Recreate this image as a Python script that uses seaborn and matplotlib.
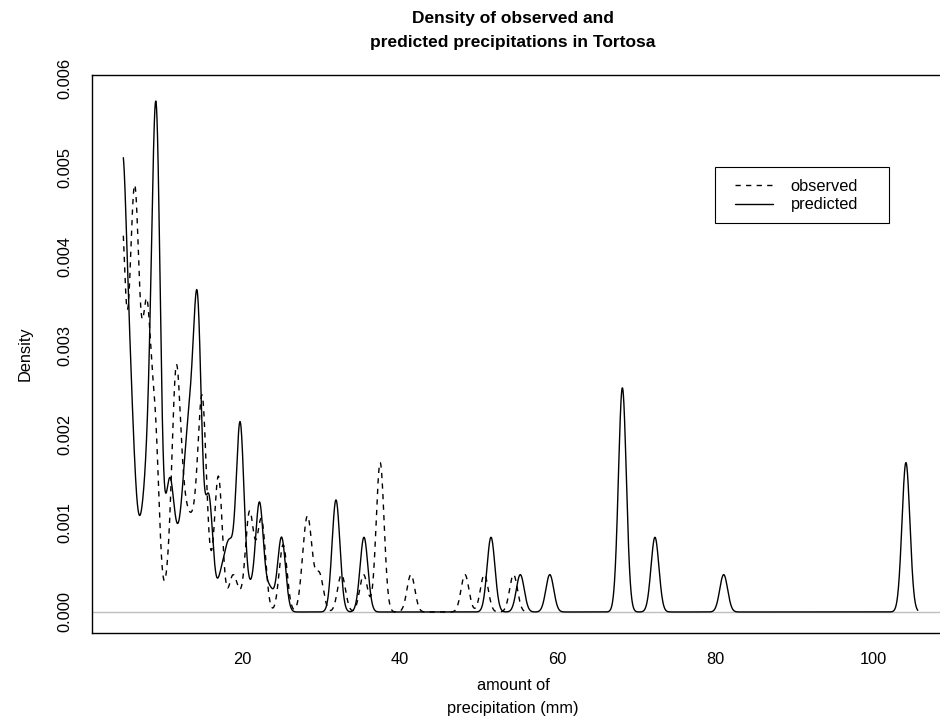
import numpy as np
import matplotlib
matplotlib.use("Agg")
import matplotlib.pyplot as plt
from matplotlib.patches import Rectangle
import seaborn as sns

# daily precipitation (mm) and number of days at each amount
obs_mm = [4.7, 5.8, 6.5, 7.3, 8.0, 9.0, 10.7, 11.6, 12.3, 13.0, 13.7, 14.4, 15.0, 15.8, 17.0,
          18.8, 19.6, 20.9, 21.7, 22.5, 25.2, 27.9, 28.3, 28.6, 29.8, 32.6, 35.4, 37.5,
          41.4, 48.25, 50.7, 54.4]
obs_w = [10, 5, 8.5, 3, 6.5, 4.5, 0.8, 5.6, 2, 1.5, 1.4, 1.5, 4.8, 0.6, 3.6,
         0.9, 0.3, 2.5, 0.6, 2.3, 1.8, 1, 1, 1, 1, 1, 1, 4,
         1, 1, 1, 1]
pred_mm = [4.7, 5.4, 6.0, 6.6, 7.3, 7.9, 8.6, 9.2, 10.6, 11.0, 11.7, 12.4, 12.9, 13.5, 14.0, 14.4,
           15.8, 17.3, 18.1, 18.6, 19.75, 21.0, 22.2, 23.5, 25.0, 31.9, 35.45,
           51.55, 55.26, 59.0, 68.2, 72.33, 81.04, 104.14]
pred_w = [10, 4.5, 3, 1, 1.2, 2, 4.5, 11, 1.8, 1.8, 1, 1.2, 2.2, 3, 1, 7,
          3, 0.8, 1, 1, 5, 0.5, 2.9, 0.6, 2, 3, 2,
          2, 1, 1, 6, 2, 1, 4]
n_days = 1900      # whole record, most days fall below 5 mm
bw_mm = 0.5        # kernel bandwidth in mm
x_from = 4.95      # curves drawn from here

sns.set_style("white")
plt.rcParams["font.family"] = ["Liberation Sans", "DejaVu Sans"]
plt.rcParams["text.color"] = "black"


def with_rest(mm, w):
    # days under 5 mm are lumped at 0 so the density keeps its scale
    x = np.r_[0.0, mm]
    wt = np.r_[n_days - sum(w), w]
    return x, wt


W, H = 940, 721
fs = 11.8
fig = plt.figure(figsize=(W / 100, H / 100), dpi=100)
left, right, top, bottom = 91.7, 951.7, 75.0, 632.7
ax = fig.add_axes([left / W, 1 - bottom / H, (right - left) / W, (bottom - top) / H])

ax.axhline(0, color="#bebebe", lw=1.0, zorder=1)

for mm, w, ls, lab in [(obs_mm, obs_w, (0, (3.8, 3.8)), "observed"),
                       (pred_mm, pred_w, "-", "predicted")]:
    x, wt = with_rest(mm, w)
    f = bw_mm / np.sqrt(np.cov(x, aweights=wt))
    sns.kdeplot(x=x, weights=wt, bw_method=f, clip=(x_from, None), gridsize=6000,
                color="black", ls=ls, lw=1.0, label=lab, ax=ax)

ax.set_xlim(0.94, 109.94)
ax.set_ylim(-0.000233, 0.006037)
ax.set_xticks([20, 40, 60, 80, 100])
ax.set_yticks([0.000, 0.001, 0.002, 0.003, 0.004, 0.005, 0.006])
ax.set_yticklabels(["0.000", "0.001", "0.002", "0.003", "0.004", "0.005", "0.006"])
ax.set_xlabel("")
ax.set_ylabel("")
for s in ax.spines.values():
    s.set_color("black")
    s.set_linewidth(1.0)
ax.tick_params(axis="both", direction="out", length=7.6, width=0.8, color="black",
               labelsize=fs, labelcolor="black")
ax.tick_params(axis="x", pad=6.5)
ax.tick_params(axis="y", pad=6.5)
for t in ax.get_yticklabels():
    t.set_rotation(90)
    t.set_va("center")

# legend entries without frame, box drawn separately like R's legend()
leg = ax.legend(loc="upper left",
                bbox_to_anchor=((735 - left) / (right - left), (bottom - 179.0) / (bottom - top)),
                borderaxespad=0, borderpad=0, frameon=False, fontsize=fs,
                handlelength=2.3, handletextpad=1.1, labelspacing=0.2)
for t in leg.get_texts():
    t.set_color("black")
fig.add_artist(Rectangle((715 / W, 1 - 222.7 / H), (889.3 - 715) / W, (222.7 - 167.3) / H,
                         transform=fig.transFigure, fill=False, ec="black", lw=0.8))

cx = 513 / W
fig.text(cx, 1 - 18 / H, "Density of observed and", ha="center", va="center",
         fontsize=12.5, fontweight="bold")
fig.text(cx, 1 - 42 / H, "predicted precipitations in Tortosa", ha="center", va="center",
         fontsize=12.5, fontweight="bold")
fig.text(cx, 1 - 686 / H, "amount of", ha="center", va="center", fontsize=fs)
fig.text(cx, 1 - 708 / H, "precipitation (mm)", ha="center", va="center", fontsize=fs)
fig.text(25 / W, 1 - 354 / H, "Density", ha="center", va="center", rotation=90, fontsize=fs)

fig.savefig("out.png", dpi=100)
